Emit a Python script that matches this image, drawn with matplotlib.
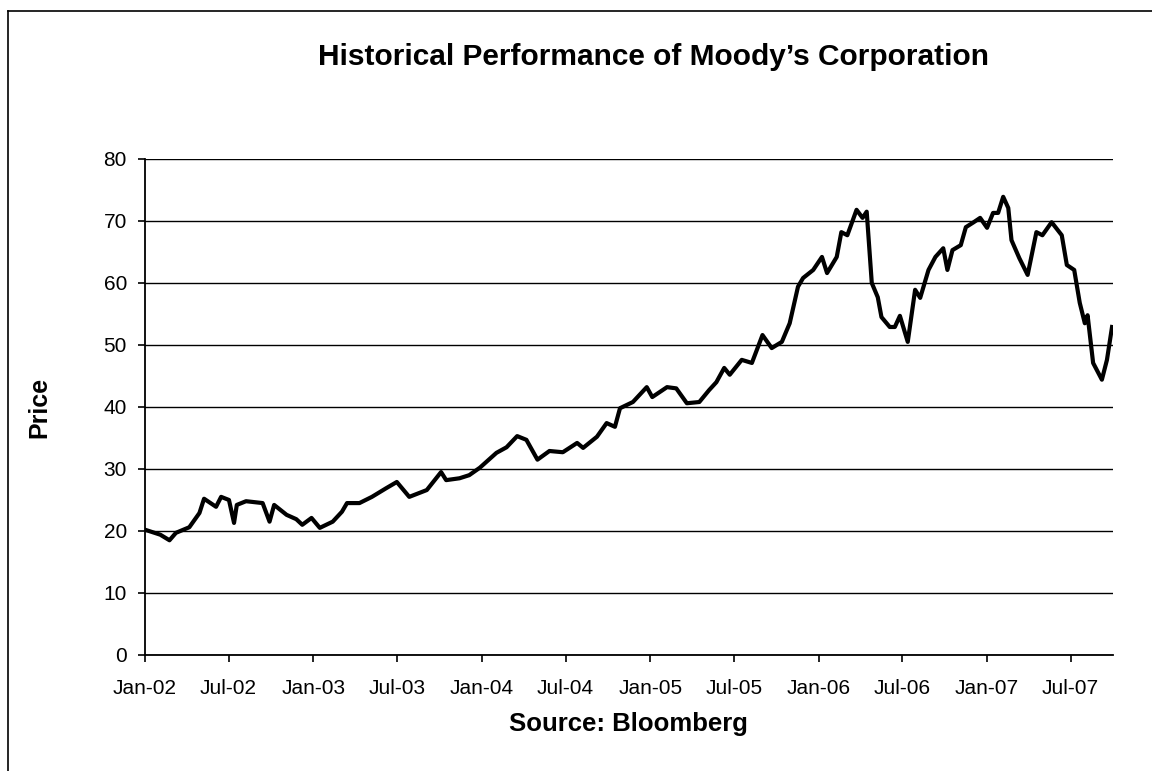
import matplotlib
matplotlib.use("Agg")
import matplotlib.pyplot as plt
import matplotlib.dates as mdates
from matplotlib.lines import Line2D
import pandas as pd

# Moody's closing prices
dates = [
    "2002-01-01", "2002-02-03", "2002-02-23", "2002-03-09", "2002-04-07", "2002-04-29",
    "2002-05-09", "2002-06-04", "2002-06-15", "2002-07-02", "2002-07-13", "2002-07-19",
    "2002-08-08", "2002-09-13", "2002-09-28", "2002-10-08", "2002-11-04", "2002-11-25",
    "2002-12-08", "2002-12-28", "2003-01-15", "2003-02-12", "2003-03-04", "2003-03-15",
    "2003-04-11", "2003-05-08", "2003-06-08", "2003-07-01", "2003-07-28", "2003-09-04",
    "2003-10-05", "2003-10-16", "2003-11-14", "2003-12-05", "2003-12-28", "2004-02-02",
    "2004-02-24", "2004-03-18", "2004-04-07", "2004-05-01", "2004-05-27", "2004-06-25",
    "2004-07-26", "2004-08-08", "2004-09-07", "2004-09-28", "2004-10-16", "2004-10-27",
    "2004-11-24", "2004-12-24", "2005-01-05", "2005-02-06", "2005-02-26", "2005-03-21",
    "2005-04-17", "2005-05-08", "2005-05-24", "2005-06-10", "2005-06-22", "2005-07-18",
    "2005-08-09", "2005-09-01", "2005-09-21", "2005-10-13", "2005-10-30", "2005-11-17",
    "2005-11-28", "2005-12-20", "2006-01-08", "2006-01-19", "2006-02-09", "2006-02-19",
    "2006-03-04", "2006-03-24", "2006-04-06", "2006-04-15", "2006-04-26", "2006-05-09",
    "2006-05-17", "2006-06-04", "2006-06-15", "2006-06-26", "2006-07-13", "2006-07-29",
    "2006-08-09", "2006-08-27", "2006-09-11", "2006-09-28", "2006-10-07", "2006-10-18",
    "2006-11-05", "2006-11-16", "2006-12-03", "2006-12-17", "2007-01-01", "2007-01-14",
    "2007-01-25", "2007-02-05", "2007-02-16", "2007-02-23", "2007-03-12", "2007-03-30",
    "2007-04-18", "2007-05-01", "2007-05-21", "2007-06-12", "2007-06-23", "2007-07-09",
    "2007-07-21", "2007-08-01", "2007-08-07", "2007-08-19", "2007-09-07", "2007-09-18",
    "2007-09-29",
]
prices = [
    20.2, 19.4, 18.5, 19.7, 20.6, 22.9,
    25.2, 23.9, 25.5, 25.0, 21.3, 24.2,
    24.8, 24.5, 21.5, 24.2, 22.6, 21.9,
    21.0, 22.1, 20.5, 21.5, 23.1, 24.5,
    24.5, 25.5, 26.9, 27.9, 25.5, 26.6,
    29.5, 28.2, 28.5, 29.0, 30.2, 32.6,
    33.5, 35.3, 34.7, 31.5, 32.9, 32.7,
    34.2, 33.4, 35.2, 37.4, 36.8, 39.8,
    40.8, 43.2, 41.6, 43.2, 43.0, 40.6,
    40.8, 42.7, 44.0, 46.3, 45.2, 47.6,
    47.1, 51.6, 49.5, 50.5, 53.5, 59.4,
    60.8, 62.1, 64.2, 61.6, 64.2, 68.2,
    67.7, 71.8, 70.5, 71.5, 60.0, 57.7,
    54.5, 52.9, 52.9, 54.7, 50.5, 58.9,
    57.6, 62.1, 64.2, 65.6, 62.1, 65.3,
    66.1, 69.0, 69.8, 70.5, 68.9, 71.3,
    71.3, 73.9, 72.1, 66.9, 64.0, 61.3,
    68.2, 67.7, 69.8, 67.7, 62.9, 62.1,
    56.8, 53.5, 54.8, 47.1, 44.4, 47.6,
    52.9,
]
y_ticks = [0, 10, 20, 30, 40, 50, 60, 70, 80]

plt.rcParams['font.family'] = ['Liberation Sans', 'DejaVu Sans']

fig = plt.figure(figsize=(11.52, 7.71), dpi=100)
ax = fig.add_axes([0.1259, 0.1505, 0.8402, 0.6433])

x = pd.to_datetime(dates)
ax.plot(x, prices, color='black', linewidth=3.0, solid_joinstyle='round')

ax.set_ylim(0, 80)
ax.set_yticks(y_ticks)
ax.set_xlim(pd.Timestamp("2002-01-01"), pd.Timestamp("2007-10-01"))
ax.xaxis.set_major_locator(mdates.MonthLocator(bymonth=[1, 7]))
ax.xaxis.set_major_formatter(mdates.DateFormatter('%b-%y'))

ax.grid(axis='y', color='black', linewidth=1.0)
ax.set_axisbelow(True)
for side in ['top', 'right']:
    ax.spines[side].set_visible(False)
for side in ['left', 'bottom']:
    ax.spines[side].set_linewidth(1.3)
ax.tick_params(axis='both', direction='out', length=5, width=1.2,
               labelsize=15, colors='black')
ax.tick_params(axis='x', pad=12)
ax.tick_params(axis='y', pad=8)

fig.text(39 / 1152, 1 - 407 / 771, 'Price', rotation=90, ha='center', va='center',
         fontsize=18, fontweight='bold')
fig.text(628 / 1152, 1 - 724 / 771, 'Source: Bloomberg', ha='center', va='center',
         fontsize=18.5, fontweight='bold')
fig.text(654 / 1152, 1 - 57 / 771, "Historical Performance of Moody\u2019s Corporation",
         ha='center', va='center', fontsize=21.5, fontweight='bold')

# outer chart frame (only the left and top edges show in the crop)
fig.add_artist(Line2D([0.007, 0.007], [0.0, 0.986], color='black', linewidth=1.2))
fig.add_artist(Line2D([0.007, 1.0], [0.986, 0.986], color='black', linewidth=1.2))

fig.savefig('out.png', dpi=100)
